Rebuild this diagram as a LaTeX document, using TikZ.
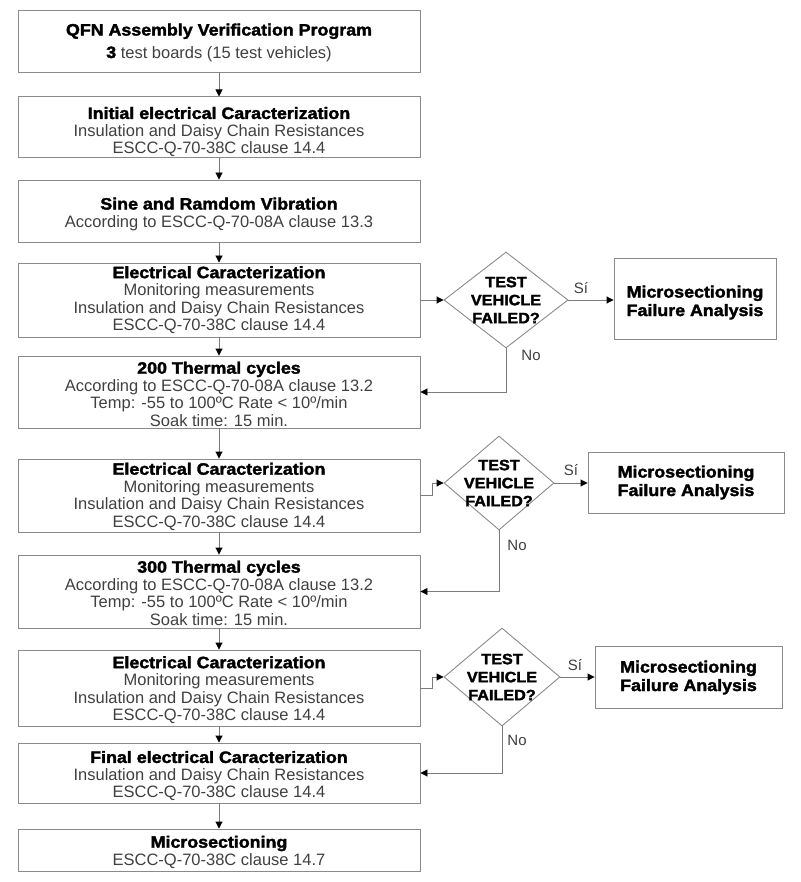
\documentclass[tikz,border=0pt]{standalone}
\usepackage{fontspec}
\setmainfont{Liberation Sans}
\newfontfamily\heavy[FakeStretch=1.08,FakeBold=2]{Liberation Sans Bold}
\usetikzlibrary{shapes.geometric,arrows.meta}
\definecolor{boxline}{HTML}{8A8A8A}
\definecolor{conline}{HTML}{7A7A7A}
\definecolor{txt}{HTML}{404040}
\newcommand{\ttl}[1]{{\heavy\color{black}#1}}
\newcommand{\fs}[1]{\rule{0pt}{#1pt}}
\tikzset{
  x=1pt,y=-1pt,
  mainbox/.style={draw=boxline,line width=0.9pt,rectangle,minimum width=402pt,align=center,inner sep=0pt,
    font=\fontsize{16.5}{17.5}\selectfont,text=txt},
  failbox/.style={draw=boxline,line width=0.9pt,rectangle,align=center,inner sep=0pt,
    font=\fontsize{16.5}{18.5}\selectfont},
  decision/.style={draw=boxline,line width=0.9pt,diamond,inner sep=0pt},
  qtext/.style={align=center,inner sep=0pt,font=\heavy\fontsize{15}{18}\selectfont},
  conn/.style={draw=conline,line width=0.9pt,-{Triangle[length=7pt,width=7pt,color=black]}},
  lbl/.style={font=\fontsize{15}{16}\selectfont,text=txt,inner sep=0pt}
}
\begin{document}
\begin{tikzpicture}
\useasboundingbox (0,0) rectangle (800,882);
% main column
\node[mainbox,minimum height=62pt] (b1) at (219,41) {\fs{15}\ttl{QFN Assembly Verification Program}\\[5pt] {\heavy\color{black}3} test boards (15 test vehicles)};
\node[mainbox,minimum height=60pt] (b2) at (219,127) {\fs{22}\ttl{Initial electrical Caracterization}\\ Insulation and Daisy Chain Resistances\\ ESCC-Q-70-38C clause 14.4};
\node[mainbox,minimum height=62pt] (b3) at (219,211) {\fs{18}\ttl{Sine and Ramdom Vibration}\\ According to ESCC-Q-70-08A clause 13.3};
\node[mainbox,minimum height=74pt] (b4) at (219,300) {\ttl{Electrical Caracterization}\\ Monitoring measurements\\ Insulation and Daisy Chain Resistances\\ ESCC-Q-70-38C clause 14.4};
\node[mainbox,minimum height=72pt] (b5) at (219,392) {\fs{16}\ttl{200 Thermal cycles}\\ According to ESCC-Q-70-08A clause 13.2\\ Temp: -55 to 100ºC Rate < 10º/min\\ Soak time: 15 min.};
\node[mainbox,minimum height=73pt] (b6) at (219,495.5) {\fs{14}\ttl{Electrical Caracterization}\\ Monitoring measurements\\ Insulation and Daisy Chain Resistances\\ ESCC-Q-70-38C clause 14.4};
\node[mainbox,minimum height=73pt] (b7) at (219,591.5) {\fs{15}\ttl{300 Thermal cycles}\\ According to ESCC-Q-70-08A clause 13.2\\ Temp: -55 to 100ºC Rate < 10º/min\\ Soak time: 15 min.};
\node[mainbox,minimum height=76pt] (b8) at (219,688) {\fs{16}\ttl{Electrical Caracterization}\\ Monitoring measurements\\ Insulation and Daisy Chain Resistances\\ ESCC-Q-70-38C clause 14.4};
\node[mainbox,minimum height=60pt] (b9) at (219,773) {\fs{18}\ttl{Final electrical Caracterization}\\ Insulation and Daisy Chain Resistances\\ ESCC-Q-70-38C clause 14.4};
\node[mainbox,minimum height=42pt] (b10) at (219,850) {\fs{16}\ttl{Microsectioning}\\ ESCC-Q-70-38C clause 14.7};
% decisions
\node[decision,minimum width=124pt,minimum height=96pt,
  label={[qtext]center:TEST\\VEHICLE\\FAILED?}] (d1) at (506,300) {};
\node[decision,minimum width=110pt,minimum height=94pt,
  label={[qtext]center:TEST\\VEHICLE\\FAILED?}] (d2) at (499,483) {};
\node[decision,minimum width=116pt,minimum height=98pt,
  label={[qtext]center:TEST\\VEHICLE\\FAILED?}] (d3) at (502,677) {};
% failure boxes
\node[failbox,minimum width=162pt,minimum height=81pt] (f1) at (695,298.5) {\fs{20}\ttl{Microsectioning}\\ \ttl{Failure Analysis}};
\node[failbox,minimum width=196pt,minimum height=61pt] (f2) at (686,482.5) {\ttl{Microsectioning}\\ \ttl{Failure Analysis}};
\node[failbox,minimum width=187pt,minimum height=62pt] (f3) at (688.5,677) {\fs{13}\ttl{Microsectioning}\\ \ttl{Failure Analysis}};
% main flow
\draw[conn] (b1) -- (b2);
\draw[conn] (b2) -- (b3);
\draw[conn] (b3) -- (b4);
\draw[conn] (b4.south) -- (b5.north);
\draw[conn] (b5) -- (b6);
\draw[conn] (b6) -- (b7);
\draw[conn] (b7) -- (b8);
\draw[conn] (b8) -- (b9);
\draw[conn] (b9) -- (b10);
% decision 1
\draw[conn] (b4.east) -- (d1.west);
\draw[conn] (d1.east) -- (d1.east -| f1.west);
\draw[conn] (d1.south) |- (b5.east);
\node[lbl] (s1) at (581,288) {Sí};
\node[lbl] (n1) at (531,355) {No};
% decision 2
\draw[conn] (b6.east) -- ++(12,0) |- (d2.west);
\draw[conn] (d2.east) -- (d2.east -| f2.west);
\draw[conn] (d2.south) |- (b7.east);
\node[lbl] (s2) at (571,470) {Sí};
\node[lbl] (n2) at (517,545) {No};
% decision 3
\draw[conn] (b8.east) -- ++(12,0) |- (d3.west);
\draw[conn] (d3.east) -- (d3.east -| f3.west);
\draw[conn] (d3.south) |- (b9.east);
\node[lbl] (s3) at (575,665) {Sí};
\node[lbl] (n3) at (517,740) {No};
\end{tikzpicture}
\end{document}
